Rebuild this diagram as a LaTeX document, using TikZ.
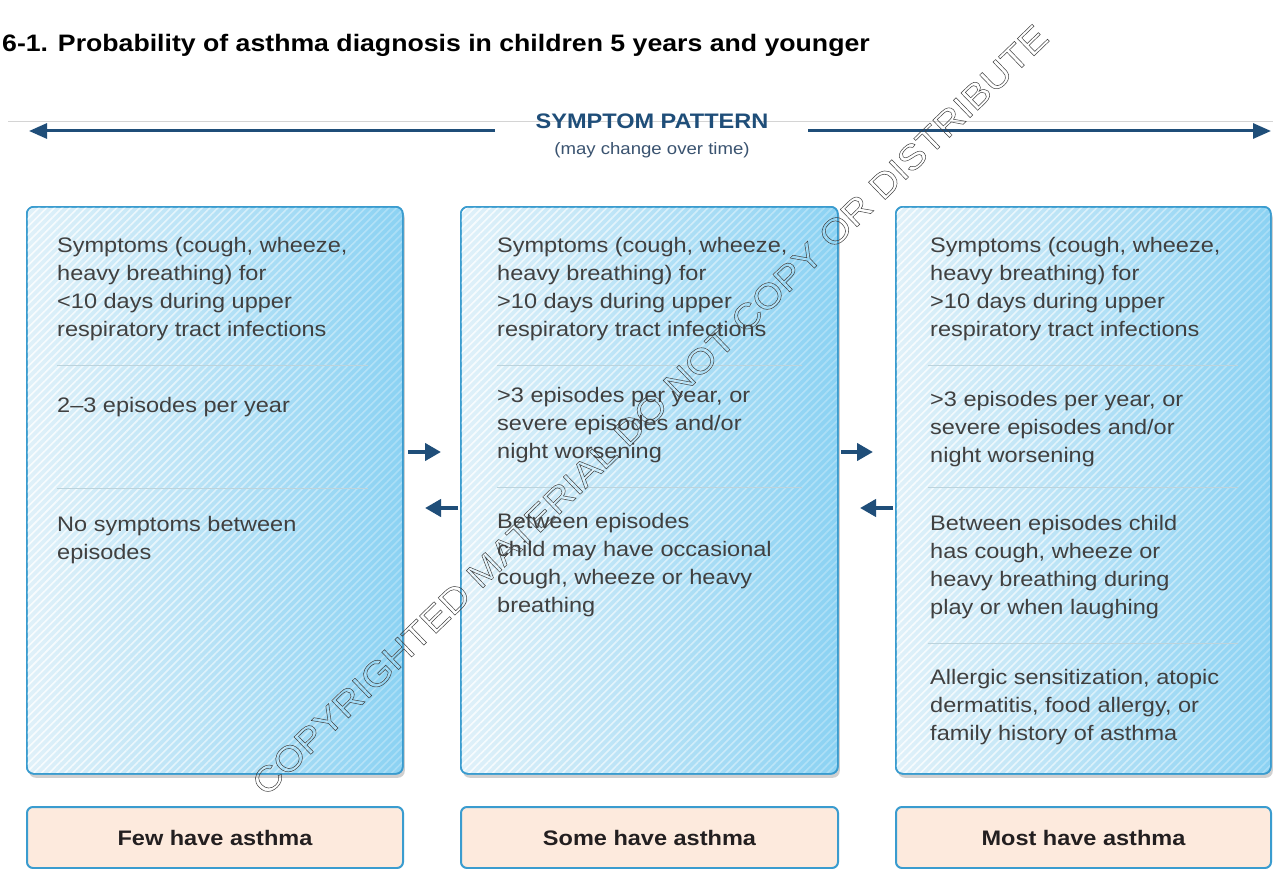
\documentclass[tikz,border=0pt]{standalone}
\usepackage{fontspec}
\setmainfont{Liberation Sans}[FakeStretch=1.12]
\usetikzlibrary{shadows,patterns.meta,arrows.meta,fadings}
\definecolor{boxL}{HTML}{E0F1F9}
\definecolor{boxR}{HTML}{8BD2F3}
\definecolor{boxBorder}{HTML}{3A9CCF}
\definecolor{arrowBlue}{HTML}{1F4E79}
\definecolor{txt}{HTML}{404040}
\definecolor{peach}{HTML}{FDEADD}
\definecolor{divider}{HTML}{BCD3DC}
\definecolor{grayline}{HTML}{D4D4D4}
\definecolor{subBlue}{HTML}{3A5370}
\definecolor{labelText}{HTML}{231F20}
\tikzfading[name=hatchfade, left color=transparent!20, right color=transparent!75]
\newcommand\outlinetext[1]{\special{pdf:literal direct 1 Tr 0.5 w}#1\special{pdf:literal direct 0 Tr}}
\newcommand\txtlines[1]{\begin{tabular}[t]{@{}l@{}}#1\end{tabular}}
\begin{document}
\begin{tikzpicture}[x=1pt,y=-1pt,
  mainbox/.style={anchor=north west, rounded corners=7pt, draw=boxBorder, line width=1.6pt,
    left color=boxL, right color=boxR, inner sep=0pt, minimum height=567pt,
    drop shadow={shadow xshift=2pt, shadow yshift=-4pt, opacity=0.3, fill=black!60},
    postaction={pattern={Lines[angle=45,distance=5.5pt,line width=1.6pt]}, pattern color=white, path fading=hatchfade, fill opacity=0.7},
    postaction={draw=boxBorder, line width=1.6pt}},
  labelbox/.style={anchor=north west, draw=boxBorder, line width=2pt, fill=peach, rounded corners=6pt,
    minimum height=61pt, inner sep=0pt, font=\bfseries\fontsize{21}{21}\selectfont, text=labelText},
  txtnode/.style={anchor=base west, inner sep=0pt, font=\fontsize{21}{28}\selectfont, text=txt},
  divline/.style={draw=divider, line width=0.8pt},
  toparrow/.style={draw=arrowBlue, line width=3pt, -{Triangle[length=18pt,width=15pt]}},
  smallarrow/.style={draw=arrowBlue, line width=4pt, -{Triangle[length=16pt,width=17pt]}}
]
\useasboundingbox (0,0) rectangle (1273,869);
\fill[white] (0,0) rectangle (1273,869);

% title
\node[anchor=base west, inner sep=0pt, font=\bfseries\fontsize{23.8}{24}\selectfont] (title) at (2,52)
  {6-1. Probability of asthma diagnosis in children 5 years and younger};

% top pattern arrow
\draw[draw=grayline, line width=0.8pt] (8,121) -- (1273,121);
\node[anchor=base, inner sep=0pt, font=\bfseries\fontsize{21}{21}\selectfont, text=arrowBlue] (sp) at (652,129) {SYMPTOM PATTERN};
\node[anchor=base, inner sep=0pt, font=\fontsize{16.6}{17}\selectfont, text=subBlue] (spsub) at (652,155) {(may change over time)};
\coordinate (aLg) at (495,131);
\coordinate (aL) at (29,131);
\coordinate (aRg) at (808,131);
\coordinate (aR) at (1271,131);
\draw[toparrow] (aLg) -- (aL);
\draw[toparrow] (aRg) -- (aR);

% main boxes
\node[mainbox, minimum width=376pt] (b1) at (26,206) {};
\node[mainbox, minimum width=377pt] (b2) at (460,206) {};
\node[mainbox, minimum width=375pt] (b3) at (895,206) {};

% box 1
\node[txtnode] (t11) at (57,252) {\txtlines{Symptoms (cough, wheeze,\\heavy breathing) for\\<10 days during upper\\respiratory tract infections}};
\draw[divline] (57,365) -- (368,365);
\node[txtnode] (t12) at (57,412) {\txtlines{2–3 episodes per year}};
\draw[divline] (57,488) -- (368,488);
\node[txtnode] (t13) at (57,531) {\txtlines{No symptoms between\\episodes}};

% box 2
\node[txtnode] (t21) at (497,252) {\txtlines{Symptoms (cough, wheeze,\\heavy breathing) for\\>10 days during upper\\respiratory tract infections}};
\draw[divline] (497,365) -- (802,365);
\node[txtnode] (t22) at (497,402) {\txtlines{>3 episodes per year, or\\severe episodes and/or\\night worsening}};
\draw[divline] (497,487) -- (802,487);
\node[txtnode] (t23) at (497,528) {\txtlines{Between episodes\\child may have occasional\\cough, wheeze or heavy\\breathing}};

% box 3
\node[txtnode] (t31) at (930,252) {\txtlines{Symptoms (cough, wheeze,\\heavy breathing) for\\>10 days during upper\\respiratory tract infections}};
\draw[divline] (928,365) -- (1238,365);
\node[txtnode] (t32) at (930,406) {\txtlines{>3 episodes per year, or\\severe episodes and/or\\night worsening}};
\draw[divline] (928,487) -- (1238,487);
\node[txtnode] (t33) at (930,530) {\txtlines{Between episodes child\\has cough, wheeze or\\heavy breathing during\\play or when laughing}};
\draw[divline] (928,643) -- (1238,643);
\node[txtnode] (t34) at (930,684) {\txtlines{Allergic sensitization, atopic\\dermatitis, food allergy, or\\family history of asthma}};

% small arrows between boxes
\coordinate (r1s) at (408,452); \coordinate (r1e) at (441,452);
\coordinate (l1s) at (458,508); \coordinate (l1e) at (425,508);
\coordinate (r2s) at (841,452); \coordinate (r2e) at (873,452);
\coordinate (l2s) at (893,508); \coordinate (l2e) at (860,508);
\draw[smallarrow] (r1s) -- (r1e);
\draw[smallarrow] (l1s) -- (l1e);
\draw[smallarrow] (r2s) -- (r2e);
\draw[smallarrow] (l2s) -- (l2e);

% bottom labels
\node[labelbox, minimum width=376pt] (lab1) at (26,806) {Few have asthma};
\node[labelbox, minimum width=377pt] (lab2) at (460,806) {Some have asthma};
\node[labelbox, minimum width=375pt] (lab3) at (895,806) {Most have asthma};

% watermark
\node[rotate=44, inner sep=0pt, font=\fontsize{35}{35}\selectfont, text=black!75] (wm) at (650,410)
  {\outlinetext{COPYRIGHTED MATERIAL DO NOT COPY OR DISTRIBUTE}};
\end{tikzpicture}
\end{document}
